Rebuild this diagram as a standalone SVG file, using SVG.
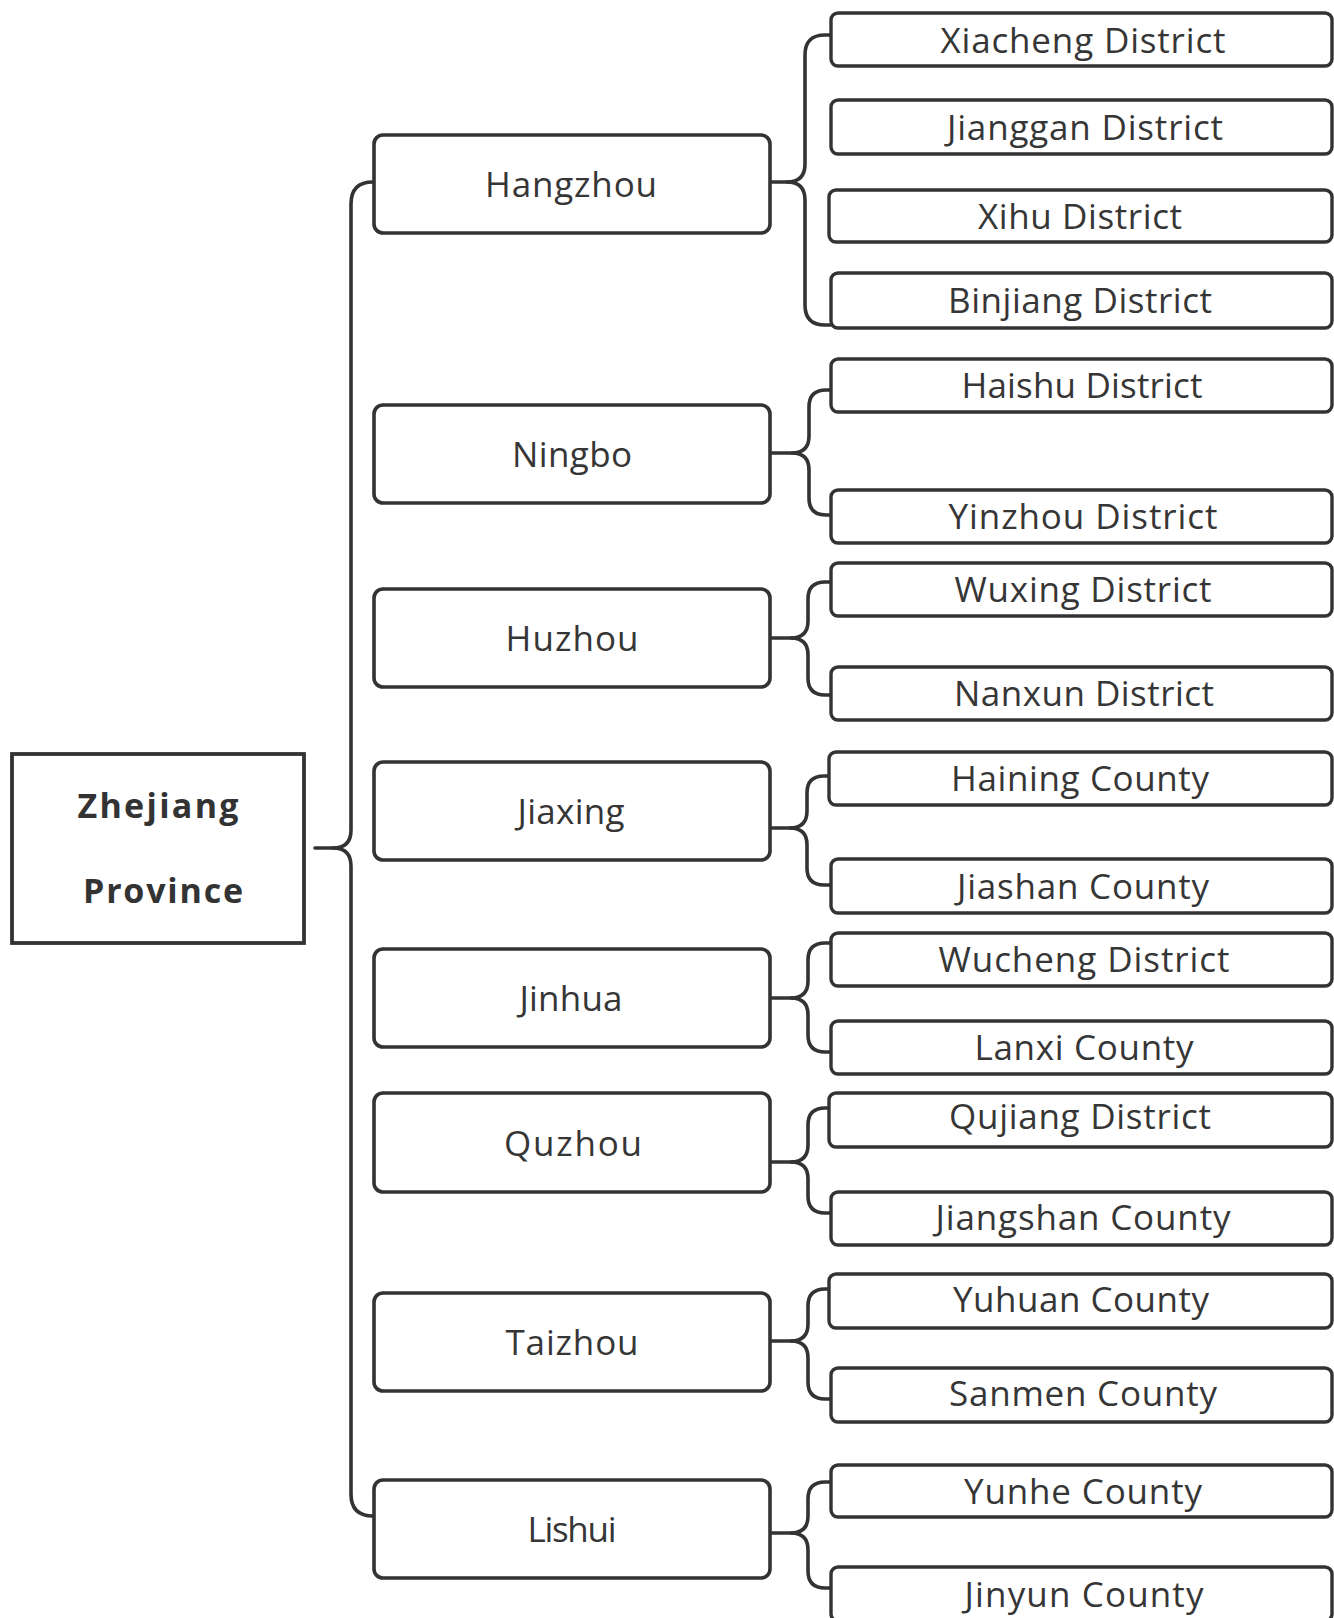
<svg xmlns="http://www.w3.org/2000/svg" width="1334" height="1618" viewBox="0 0 1334 1618">
<style>
.bg{fill:#ffffff}
.root{fill:#ffffff;stroke:#333333;stroke-width:3.8}
.l1{fill:#ffffff;stroke:#333333;stroke-width:3.6}
.l2{fill:#ffffff;stroke:#333333;stroke-width:3.4}
.t{font-family:"Open Sans","Noto Sans","Liberation Sans",sans-serif;font-size:35px;fill:#363636;text-anchor:middle}
.tb{font-family:"Open Sans","Noto Sans","Liberation Sans",sans-serif;font-size:34px;font-weight:bold;fill:#333333;text-anchor:middle}
.c{fill:none;stroke:#333333;stroke-width:3.6;stroke-linejoin:round;stroke-linecap:round}
</style>
<rect class="bg" x="0" y="0" width="1334" height="1618"/>
<g id="connectors">
<path class="c" d="M315,848 H333 Q351,848 351,830 V204 Q351,182 373,182"/>
<path class="c" d="M333,848 Q351,848 351,866 V1494 Q351,1516 373,1516"/>
<path class="c" d="M770,182 H787 Q805,182 805,164 V55 Q805,35 825,35 H831"/>
<path class="c" d="M787,182 Q805,182 805,200 V305 Q805,325 825,325 H831"/>
<path class="c" d="M770,453 H792 Q809,453 809,436 V407 Q809,390 826,390 H831"/>
<path class="c" d="M792,453 Q809,453 809,470 V498 Q809,515 826,515 H831"/>
<path class="c" d="M770,638 H791 Q808,638 808,621 V599 Q808,582 825,582 H831"/>
<path class="c" d="M791,638 Q808,638 808,655 V678 Q808,695 825,695 H831"/>
<path class="c" d="M770,828 H790 Q807,828 807,811 V793 Q807,776 824,776 H829"/>
<path class="c" d="M790,828 Q807,828 807,845 V868 Q807,885 824,885 H831"/>
<path class="c" d="M770,998 H791 Q808,998 808,981 V960 Q808,943 825,943 H831"/>
<path class="c" d="M791,998 Q808,998 808,1015 V1035 Q808,1052 825,1052 H831"/>
<path class="c" d="M770,1162 H791 Q808,1162 808,1145 V1125 Q808,1108 825,1108 H829"/>
<path class="c" d="M791,1162 Q808,1162 808,1179 V1196 Q808,1213 825,1213 H831"/>
<path class="c" d="M770,1341 H791 Q808,1341 808,1324 V1306 Q808,1289 825,1289 H829"/>
<path class="c" d="M791,1341 Q808,1341 808,1358 V1382 Q808,1399 825,1399 H831"/>
<path class="c" d="M770,1533 H791 Q808,1533 808,1516 V1499 Q808,1482 825,1482 H831"/>
<path class="c" d="M791,1533 Q808,1533 808,1550 V1571 Q808,1588 825,1588 H831"/>
</g>
<g id="zhejiang">
<rect class="root" x="12" y="754" width="292" height="189"/>
<text class="tb" x="158" y="818" textLength="161" lengthAdjust="spacing">Zhejiang</text>
<text class="tb" x="163" y="903" textLength="160" lengthAdjust="spacing">Province</text>
</g>
<g id="hangzhou"><rect class="l1" x="374" y="135" width="396" height="98" rx="9"/><text class="t" x="571" y="197" textLength="172" lengthAdjust="spacing">Hangzhou</text></g>
<g id="ningbo"><rect class="l1" x="374" y="405" width="396" height="98" rx="9"/><text class="t" x="572" y="467" textLength="120" lengthAdjust="spacing">Ningbo</text></g>
<g id="huzhou"><rect class="l1" x="374" y="589" width="396" height="98" rx="9"/><text class="t" x="572" y="651" textLength="133" lengthAdjust="spacing">Huzhou</text></g>
<g id="jiaxing"><rect class="l1" x="374" y="762" width="396" height="98" rx="9"/><text class="t" x="571" y="824" textLength="107" lengthAdjust="spacing">Jiaxing</text></g>
<g id="jinhua"><rect class="l1" x="374" y="949" width="396" height="98" rx="9"/><text class="t" x="571" y="1011" textLength="103" lengthAdjust="spacing">Jinhua</text></g>
<g id="quzhou"><rect class="l1" x="374" y="1093" width="396" height="99" rx="9"/><text class="t" x="573" y="1156" textLength="138" lengthAdjust="spacing">Quzhou</text></g>
<g id="taizhou"><rect class="l1" x="374" y="1293" width="396" height="98" rx="9"/><text class="t" x="572" y="1355" textLength="133" lengthAdjust="spacing">Taizhou</text></g>
<g id="lishui"><rect class="l1" x="374" y="1480" width="396" height="98" rx="9"/><text class="t" x="572" y="1542" textLength="89" lengthAdjust="spacing">Lishui</text></g>
<g id="xiacheng"><rect class="l2" x="831" y="13" width="501" height="53" rx="7"/><text class="t" x="1083" y="53" textLength="285" lengthAdjust="spacing">Xiacheng District</text></g>
<g id="jianggan"><rect class="l2" x="831" y="100" width="501" height="54" rx="7"/><text class="t" x="1085" y="140" textLength="276" lengthAdjust="spacing">Jianggan District</text></g>
<g id="xihu"><rect class="l2" x="829" y="190" width="503" height="52" rx="7"/><text class="t" x="1080" y="229" textLength="204" lengthAdjust="spacing">Xihu District</text></g>
<g id="binjiang"><rect class="l2" x="831" y="273" width="501" height="55" rx="7"/><text class="t" x="1080" y="313" textLength="264" lengthAdjust="spacing">Binjiang District</text></g>
<g id="haishu"><rect class="l2" x="831" y="359" width="501" height="53" rx="7"/><text class="t" x="1082" y="398" textLength="241" lengthAdjust="spacing">Haishu District</text></g>
<g id="yinzhou"><rect class="l2" x="831" y="490" width="501" height="53" rx="7"/><text class="t" x="1083" y="529" textLength="269" lengthAdjust="spacing">Yinzhou District</text></g>
<g id="wuxing"><rect class="l2" x="831" y="563" width="501" height="53" rx="7"/><text class="t" x="1083" y="602" textLength="257" lengthAdjust="spacing">Wuxing District</text></g>
<g id="nanxun"><rect class="l2" x="831" y="667" width="501" height="53" rx="7"/><text class="t" x="1084" y="706" textLength="260" lengthAdjust="spacing">Nanxun District</text></g>
<g id="haining"><rect class="l2" x="829" y="752" width="503" height="53" rx="7"/><text class="t" x="1080" y="791" textLength="258" lengthAdjust="spacing">Haining County</text></g>
<g id="jiashan"><rect class="l2" x="831" y="859" width="501" height="54" rx="7"/><text class="t" x="1083" y="899" textLength="252" lengthAdjust="spacing">Jiashan County</text></g>
<g id="wucheng"><rect class="l2" x="831" y="933" width="501" height="53" rx="7"/><text class="t" x="1084" y="972" textLength="291" lengthAdjust="spacing">Wucheng District</text></g>
<g id="lanxi"><rect class="l2" x="831" y="1021" width="501" height="53" rx="7"/><text class="t" x="1084" y="1060" textLength="219" lengthAdjust="spacing">Lanxi County</text></g>
<g id="qujiang"><rect class="l2" x="829" y="1093" width="503" height="54" rx="7"/><text class="t" x="1080" y="1129" textLength="262" lengthAdjust="spacing">Qujiang District</text></g>
<g id="jiangshan"><rect class="l2" x="831" y="1192" width="501" height="53" rx="7"/><text class="t" x="1083" y="1230" textLength="295" lengthAdjust="spacing">Jiangshan County</text></g>
<g id="yuhuan"><rect class="l2" x="829" y="1274" width="503" height="54" rx="7"/><text class="t" x="1081" y="1312" textLength="256" lengthAdjust="spacing">Yuhuan County</text></g>
<g id="sanmen"><rect class="l2" x="831" y="1368" width="501" height="54" rx="7"/><text class="t" x="1083" y="1406" textLength="268" lengthAdjust="spacing">Sanmen County</text></g>
<g id="yunhe"><rect class="l2" x="831" y="1465" width="501" height="52" rx="7"/><text class="t" x="1083" y="1504" textLength="238" lengthAdjust="spacing">Yunhe County</text></g>
<g id="jinyun"><rect class="l2" x="831" y="1567" width="501" height="54" rx="7"/><text class="t" x="1084" y="1607" textLength="239" lengthAdjust="spacing">Jinyun County</text></g>
</svg>
